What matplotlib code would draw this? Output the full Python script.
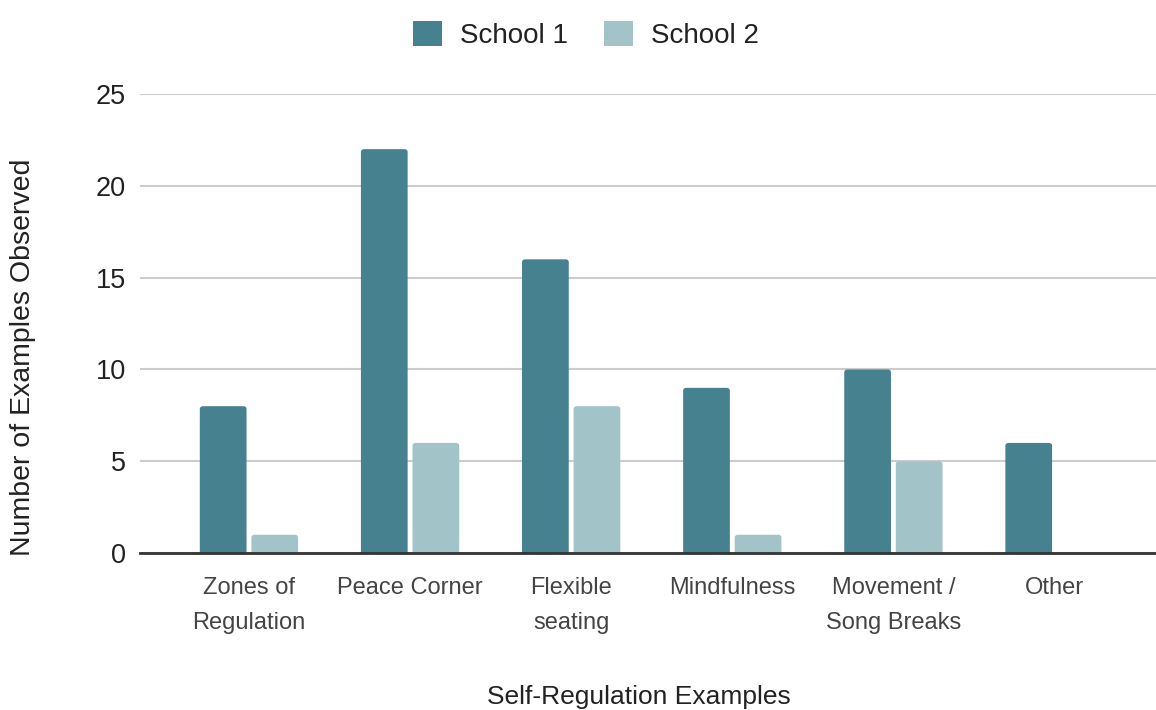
import matplotlib.pyplot as plt
from matplotlib.patches import FancyBboxPatch, Patch
import numpy as np

categories = ['Zones of\nRegulation', 'Peace Corner', 'Flexible\nseating',
              'Mindfulness', 'Movement /\nSong Breaks', 'Other']
school1 = [8, 22, 16, 9, 10, 6]
school2 = [1, 6, 8, 1, 5, 0]
yticks = [0, 5, 10, 15, 20, 25]

col1 = '#45818e'
col2 = '#a2c4c9'

plt.rcParams['font.family'] = ['Liberation Sans', 'DejaVu Sans']

fig = plt.figure(figsize=(11.56, 7.10), dpi=100)
ax = fig.add_axes([0.121, 0.221, 0.879, 0.6465])

x = np.arange(len(categories))
w = 0.29
off = 0.16
b1 = ax.bar(x - off, school1, w, color=col1, zorder=3)
b2 = ax.bar(x + off, school2, w, color=col2, zorder=3)

ax.set_xlim(-0.677, 5.63)
ax.set_ylim(0, 25)

# swap the plain rectangles for ones with slightly rounded tops
for bars in (b1, b2):
    for r in bars:
        h = r.get_height()
        r.set_visible(False)
        if h <= 0:
            continue
        rb = FancyBboxPatch((r.get_x(), -0.4), r.get_width(), h + 0.4,
                            boxstyle='round,pad=0,rounding_size=0.02',
                            mutation_aspect=8.0,
                            facecolor=r.get_facecolor(), edgecolor='none',
                            zorder=3)
        ax.add_patch(rb)

ax.set_yticks(yticks)
ax.set_yticklabels([str(t) for t in yticks], fontsize=19.5, color='#222222')
ax.set_xticks(x)
ax.set_xticklabels(categories, fontsize=17, color='#444444',
                   linespacing=1.8)

ax.grid(axis='y', color='#cccccc', linewidth=1.5, zorder=0)
ax.tick_params(axis='both', length=0)
ax.tick_params(axis='y', pad=10)
ax.tick_params(axis='x', pad=17)
for s in ['top', 'right', 'left']:
    ax.spines[s].set_visible(False)
ax.spines['bottom'].set_color('#333333')
ax.spines['bottom'].set_linewidth(2)
ax.spines['bottom'].set_zorder(4)

ax.set_ylabel('Number of Examples Observed', fontsize=20.5, color='#222222')
ax.yaxis.set_label_coords(-0.102, 0.427)
fig.text(0.553, 0.018, 'Self-Regulation Examples', fontsize=19, color='#222222',
         ha='center', va='center')

handles = [Patch(facecolor=col1, edgecolor='none'),
           Patch(facecolor=col2, edgecolor='none')]
fig.legend(handles=handles, labels=['School 1', 'School 2'],
           loc='upper center', bbox_to_anchor=(0.507, 1.005),
           ncol=2, frameon=False, fontsize=20, handlelength=1.05, handleheight=1.0,
           columnspacing=1.3, handletextpad=0.65, labelcolor='#222222')

fig.savefig('out.png', dpi=100)
